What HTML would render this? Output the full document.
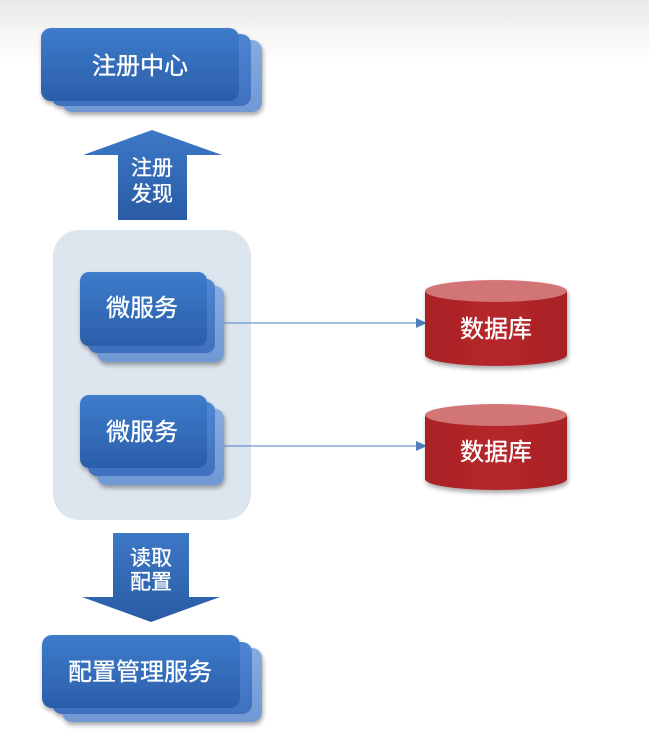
<!DOCTYPE html>
<html><head><meta charset="utf-8">
<style>
html,body{margin:0;padding:0;}
body{width:649px;height:733px;overflow:hidden;background:linear-gradient(#e9e9e9 0px,#f6f6f6 35px,#ffffff 65px,#ffffff 733px);}
svg{display:block;}
text{font-family:"Liberation Sans","Noto Sans CJK SC",sans-serif;fill:#ffffff;stroke:#ffffff;stroke-width:0.35;}
</style></head>
<body>
<svg width="649" height="733" viewBox="0 0 649 733" xmlns="http://www.w3.org/2000/svg">
<defs>
<linearGradient id="bf" x1="0" y1="0" x2="0" y2="1">
<stop offset="0" stop-color="#3d7ccb"/><stop offset="1" stop-color="#2b5ea9"/>
</linearGradient>
<linearGradient id="b2" x1="0" y1="0" x2="0" y2="1">
<stop offset="0" stop-color="#4f86d3"/><stop offset="1" stop-color="#3f70bd"/>
</linearGradient>
<linearGradient id="b3" x1="0" y1="0" x2="0" y2="1">
<stop offset="0" stop-color="#86abdf"/><stop offset="1" stop-color="#7098d3"/>
</linearGradient>
<linearGradient id="ar" x1="0" y1="0" x2="0" y2="1">
<stop offset="0" stop-color="#3c78c6"/><stop offset="1" stop-color="#2a5ba5"/>
</linearGradient>
<linearGradient id="cyl" x1="0" y1="0" x2="1" y2="0">
<stop offset="0" stop-color="#a82024"/><stop offset="0.5" stop-color="#b6282b"/><stop offset="1" stop-color="#a82024"/>
</linearGradient>
<filter id="sh" x="-20%" y="-20%" width="150%" height="160%">
<feGaussianBlur in="SourceAlpha" stdDeviation="2.5"/>
<feOffset dx="1" dy="3" result="o"/>
<feComponentTransfer><feFuncA type="linear" slope="0.35"/></feComponentTransfer>
<feMerge><feMergeNode/><feMergeNode in="SourceGraphic"/></feMerge>
</filter>
</defs>

<!-- Registry center -->
<g filter="url(#sh)">
<rect x="62" y="40" width="200" height="72" rx="10" fill="url(#b3)"/>
<rect x="51" y="34" width="200" height="72" rx="10" fill="url(#b2)"/>
<rect x="41" y="28" width="198" height="73" rx="10" fill="url(#bf)"/>
</g>
<text x="140" y="74" font-size="24" text-anchor="middle">注册中心</text>

<!-- Up arrow -->
<polygon points="152,130 222,155 187,155 187,220 118,220 118,155 83,155" fill="url(#ar)"/>
<text x="152" y="175" font-size="21" text-anchor="middle">注册</text>
<text x="152" y="201" font-size="21" text-anchor="middle">发现</text>

<!-- Panel -->
<rect x="53" y="230" width="198" height="290" rx="26" fill="#dde5ef"/>

<!-- Microservice 1 -->
<g filter="url(#sh)">
<rect x="97" y="286" width="127" height="76" rx="9" fill="url(#b3)"/>
<rect x="88" y="279" width="127" height="74" rx="9" fill="url(#b2)"/>
<rect x="80" y="272" width="127" height="74" rx="9" fill="url(#bf)"/>
</g>
<text x="142" y="316" font-size="24" text-anchor="middle">微服务</text>

<!-- Microservice 2 -->
<g filter="url(#sh)">
<rect x="97" y="409" width="127" height="76" rx="9" fill="url(#b3)"/>
<rect x="88" y="402" width="127" height="74" rx="9" fill="url(#b2)"/>
<rect x="80" y="395" width="127" height="73" rx="9" fill="url(#bf)"/>
</g>
<text x="142" y="440" font-size="24" text-anchor="middle">微服务</text>

<!-- Connectors -->
<line x1="224" y1="323" x2="418" y2="323" stroke="#4f7fbd" stroke-width="1"/>
<polygon points="416,318 427,323 416,328" fill="#4f7fbd"/>
<line x1="224" y1="446" x2="418" y2="446" stroke="#4f7fbd" stroke-width="1"/>
<polygon points="416,441 427,446 416,451" fill="#4f7fbd"/>

<!-- DB 1 -->
<g filter="url(#sh)">
<path d="M425,291 L425,355 A71,11 0 0 0 567,355 L567,291 Z" fill="url(#cyl)"/>
<ellipse cx="496" cy="291" rx="71" ry="11" fill="#d27476"/>
</g>
<text x="496" y="337" font-size="24" text-anchor="middle">数据库</text>

<!-- DB 2 -->
<g filter="url(#sh)">
<path d="M425,415 L425,479 A71,11 0 0 0 567,479 L567,415 Z" fill="url(#cyl)"/>
<ellipse cx="496" cy="415" rx="71" ry="11" fill="#d27476"/>
</g>
<text x="496" y="460" font-size="24" text-anchor="middle">数据库</text>

<!-- Down arrow -->
<polygon points="113,533 189,533 189,597 220,597 151,622 82,597 113,597" fill="url(#ar)"/>
<text x="151" y="565" font-size="21" text-anchor="middle">读取</text>
<text x="151" y="589" font-size="21" text-anchor="middle">配置</text>

<!-- Config management -->
<g filter="url(#sh)">
<rect x="62" y="648" width="200" height="74" rx="10" fill="url(#b3)"/>
<rect x="52" y="642" width="200" height="72" rx="10" fill="url(#b2)"/>
<rect x="42" y="635" width="198" height="73" rx="10" fill="url(#bf)"/>
</g>
<text x="140" y="680" font-size="24" text-anchor="middle">配置管理服务</text>
</svg>
</body></html>
